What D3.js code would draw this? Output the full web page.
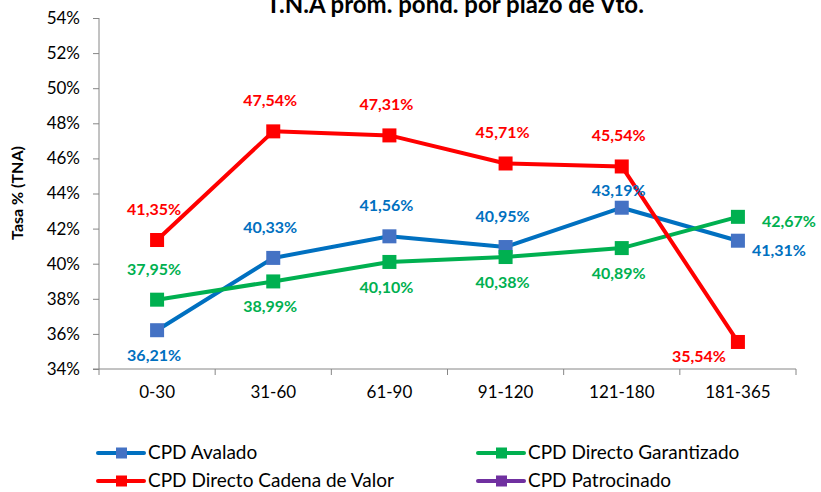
<!DOCTYPE html>
<html>
<head>
<meta charset="utf-8">
<script src="https://cdn.jsdelivr.net/npm/d3@7"></script>
<style>
  body { margin: 0; background: #fff; }
  svg { display: block; font-family: Lato, "Open Sans", sans-serif; }
</style>
</head>
<body>
<svg class="main" width="821" height="492"></svg>
<script>
var categories = ["0-30", "31-60", "61-90", "91-120", "121-180", "181-365"],
    avalado = [36.21, 40.33, 41.56, 40.95, 43.19, 41.31],
    garantizado = [37.95, 38.99, 40.10, 40.38, 40.89, 42.67],
    cadena = [41.35, 47.54, 47.31, 45.71, 45.54, 35.54],
    patrocinado = [],
    yTicks = [34, 36, 38, 40, 42, 44, 46, 48, 50, 52, 54];

// label placement per point: a = above, an = above (near), b = below,
// r = right, rb = right a bit lower, lb = left-below
var series = [
    { name: "CPD Avalado", values: avalado, line: "#0070C0", marker: "#4472C4", text: "#0070C0",
      pos: ["b", "a", "a", "a", "an", "rb"] },
    { name: "CPD Directo Garantizado", values: garantizado, line: "#00B050", marker: "#00B050", text: "#00B050",
      pos: ["a", "b", "b", "b", "b", "r"] },
    { name: "CPD Directo Cadena de Valor", values: cadena, line: "#FF0000", marker: "#FF0000", text: "#FF0000",
      pos: ["a", "a", "a", "a", "a", "lb"] },
    { name: "CPD Patrocinado", values: patrocinado, line: "#7030A0", marker: "#7030A0", text: "#7030A0",
      pos: [] }
];

var svg = d3.select(".main"),
    margin = { left: 99, right: 796, top: 18, bottom: 369 };

var x = d3.scaleBand().domain(categories).range([margin.left, margin.right]),
    y = d3.scaleLinear().domain([34, 54]).range([margin.bottom, margin.top]);

function cx(i) { return x(categories[i]) + x.bandwidth() / 2; }

// title (partly cut off at the top, as in the original)
svg.append("text")
    .attr("x", 455).attr("y", 13)
    .attr("text-anchor", "middle")
    .style("font-size", "24px").style("font-weight", "bold")
    .text("T.N.A prom. pond.  por plazo de Vto.");

// y axis
var yAxis = svg.append("g")
    .attr("transform", "translate(" + margin.left + ",0)")
    .call(d3.axisLeft(y).tickValues(yTicks).tickSize(6).tickPadding(13)
        .tickFormat(function(d) { return d + "%"; }));
yAxis.select(".domain").attr("stroke", "#868686").attr("d", "M0," + margin.top + "V" + margin.bottom);
yAxis.selectAll(".tick line").attr("stroke", "#868686");
yAxis.selectAll(".tick text").style("font-size", "17px").style("font-family", "Lato, sans-serif").attr("fill", "#000");

// x axis
var xAxis = svg.append("g")
    .attr("transform", "translate(0," + margin.bottom + ")")
    .call(d3.axisBottom(x).tickSize(0).tickPadding(17));
xAxis.select(".domain").attr("stroke", "#868686").attr("d", "M" + (margin.left - 6) + ",0H" + margin.right);
xAxis.selectAll(".tick text").style("font-size", "17px").style("font-family", "Lato, sans-serif").attr("fill", "#000");
xAxis.selectAll(".sep")
    .data(d3.range(categories.length + 1))
    .enter()
    .append("line")
    .attr("stroke", "#868686")
    .attr("x1", function(d) { return margin.left + d * x.bandwidth(); })
    .attr("x2", function(d) { return margin.left + d * x.bandwidth(); })
    .attr("y1", 0).attr("y2", 6);

// y axis title
svg.append("text")
    .attr("transform", "translate(23,193) rotate(-90)")
    .attr("text-anchor", "middle")
    .style("font-size", "16px").style("font-weight", "bold")
    .text("Tasa % (TNA)");

var line = d3.line()
    .x(function(d, i) { return cx(i); })
    .y(function(d) { return y(d); });

var plot = svg.append("g"),
    lines = plot.append("g"),
    labels = plot.append("g");

var labelDx = { a: -3, an: -3, b: -3, r: 24, rb: 14, lb: -12 },
    labelDy = { a: -25, an: -12, b: 31, r: 10, rb: 15, lb: 20 };

series.forEach(function(s) {
    if (!s.values.length) return;

    lines.append("path")
        .attr("d", line(s.values))
        .attr("fill", "none")
        .attr("stroke", s.line)
        .attr("stroke-width", 4)
        .attr("stroke-linejoin", "round");

    lines.selectAll(null)
        .data(s.values)
        .enter()
        .append("rect")
        .attr("x", function(d, i) { return cx(i) - 7; })
        .attr("y", function(d) { return y(d) - 7; })
        .attr("width", 14).attr("height", 14)
        .attr("fill", s.marker);

    labels.selectAll(null)
        .data(s.values)
        .enter()
        .append("text")
        .attr("x", function(d, i) { return cx(i) + labelDx[s.pos[i]]; })
        .attr("y", function(d, i) { return y(d) + labelDy[s.pos[i]]; })
        .attr("text-anchor", function(d, i) {
            var p = s.pos[i];
            return p === "r" || p === "rb" ? "start" : p === "lb" ? "end" : "middle";
        })
        .attr("fill", s.text)
        .style("font-size", "16px").style("font-weight", "bold")
        .text(function(d) { return d.toFixed(2).replace(".", ",") + "%"; });
});

// legend
var legend = svg.append("g");
var legendPos = [[98, 453], [478, 453], [98, 481], [478, 481]];

series.forEach(function(s, i) {
    var p = legendPos[i],
        g = legend.append("g").attr("transform", "translate(" + p[0] + "," + p[1] + ")");
    g.append("line").attr("x1", 0).attr("x2", 46).attr("y1", 0).attr("y2", 0)
        .attr("stroke", s.line).attr("stroke-width", 4).attr("stroke-linecap", "round");
    g.append("rect").attr("x", 18).attr("y", -5.5).attr("width", 11).attr("height", 11).attr("fill", s.marker);
    g.append("text").attr("x", 50).attr("y", 6)
        .style("font-size", "19px")
        .text(s.name);
});
</script>
</body>
</html>
